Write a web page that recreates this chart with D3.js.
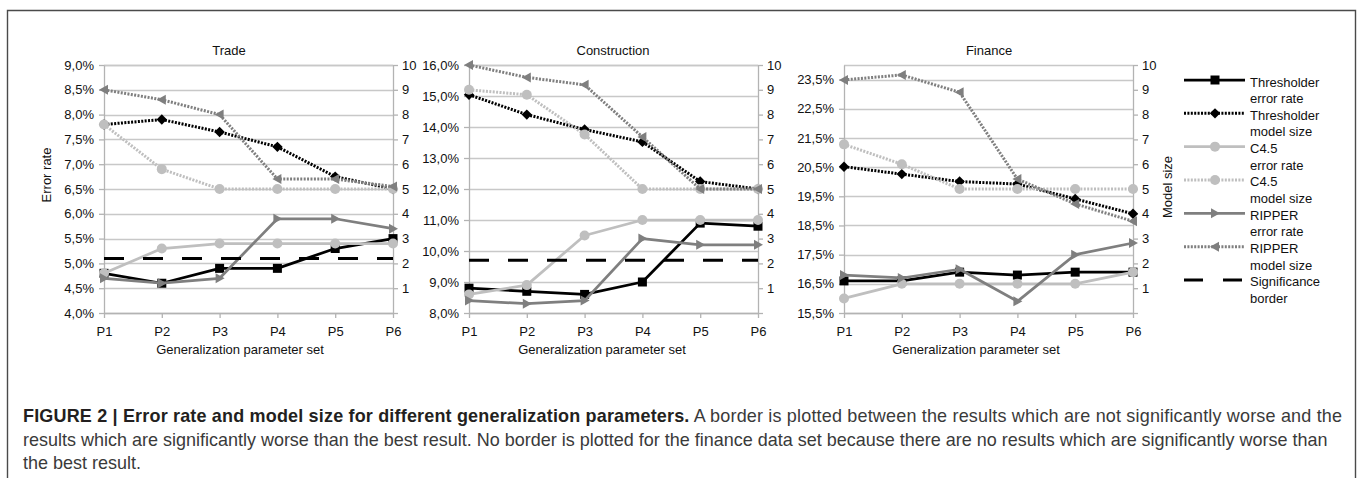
<!DOCTYPE html>
<html>
<head>
<meta charset="utf-8">
<script src="https://cdn.jsdelivr.net/npm/d3@7"></script>
<style>
  html, body { margin: 0; padding: 0; background: #fff; }
  svg { display: block; font-family: "Liberation Sans", Arial, Helvetica, sans-serif; }
</style>
</head>
<body>
<svg id="fig" width="1357" height="478"></svg>
<script>
// ---- Data -------------------------------------------------------------
const categories = ["P1", "P2", "P3", "P4", "P5", "P6"];
const panelTitles = ["Trade", "Construction", "Finance"];

// Trade (error rate in %, model size on secondary axis)
const tradeThresholderError = [4.8, 4.6, 4.9, 4.9, 5.3, 5.5];
const tradeThresholderSize  = [7.6, 7.8, 7.3, 6.7, 5.5, 5.0];
const tradeC45Error         = [4.8, 5.3, 5.4, 5.4, 5.4, 5.4];
const tradeC45Size          = [7.6, 5.8, 5.0, 5.0, 5.0, 5.0];
const tradeRipperError      = [4.7, 4.6, 4.7, 5.9, 5.9, 5.7];
const tradeRipperSize       = [9.0, 8.6, 8.0, 5.4, 5.4, 5.1];
const tradeSignificance     = [5.1, 5.1, 5.1, 5.1, 5.1, 5.1];

// Construction
const constructionThresholderError = [8.8, 8.7, 8.6, 9.0, 10.9, 10.8];
const constructionThresholderSize  = [8.8, 8.0, 7.4, 6.9, 5.3, 5.0];
const constructionC45Error         = [8.6, 8.9, 10.5, 11.0, 11.0, 11.0];
const constructionC45Size          = [9.0, 8.8, 7.2, 5.0, 5.0, 5.0];
const constructionRipperError      = [8.4, 8.3, 8.4, 10.4, 10.2, 10.2];
const constructionRipperSize       = [10.0, 9.5, 9.2, 7.1, 5.0, 5.0];
const constructionSignificance     = [9.7, 9.7, 9.7, 9.7, 9.7, 9.7];

// Finance (no significance border)
const financeThresholderError = [16.6, 16.6, 16.9, 16.8, 16.9, 16.9];
const financeThresholderSize  = [5.9, 5.6, 5.3, 5.2, 4.6, 4.0];
const financeC45Error         = [16.0, 16.5, 16.5, 16.5, 16.5, 16.9];
const financeC45Size          = [6.8, 6.0, 5.0, 5.0, 5.0, 5.0];
const financeRipperError      = [16.8, 16.7, 17.0, 15.9, 17.5, 17.9];
const financeRipperSize       = [9.4, 9.6, 8.9, 5.4, 4.4, 3.7];
const financeSignificance     = null;

// Axis ticks
const tradeErrorTicks        = [4.0, 4.5, 5.0, 5.5, 6.0, 6.5, 7.0, 7.5, 8.0, 8.5, 9.0];
const constructionErrorTicks = [8, 9, 10, 11, 12, 13, 14, 15, 16];
const financeErrorTicks      = [15.5, 16.5, 17.5, 18.5, 19.5, 20.5, 21.5, 22.5, 23.5];
const modelSizeTicks         = [0, 1, 2, 3, 4, 5, 6, 7, 8, 9, 10];

const legendLabels = [
  ["Thresholder", "error rate"],
  ["Thresholder", "model size"],
  ["C4.5", "error rate"],
  ["C4.5", "model size"],
  ["RIPPER", "error rate"],
  ["RIPPER", "model size"],
  ["Significance", "border"]
];

const xAxisTitle = "Generalization parameter set";
const leftAxisTitle = "Error rate";
const rightAxisTitle = "Model size";

const captionBold = "FIGURE 2 | Error rate and model size for different generalization parameters.";
const captionLines = [
  " A border is plotted between the results which are not significantly worse and the",
  "results which are significantly worse than the best result. No border is plotted for the finance data set because there are no results which are significantly worse than",
  "the best result."
];

// ---- Styles -----------------------------------------------------------
const BLACK = "#000000", LIGHT = "#bfbfbf", MID = "#7f7f7f";
const seriesStyles = [
  { color: BLACK, dotted: false, marker: "square",   axis: "left"  },  // Thresholder error
  { color: BLACK, dotted: true,  marker: "diamond",  axis: "right" },  // Thresholder size
  { color: LIGHT, dotted: false, marker: "circle",   axis: "left"  },  // C4.5 error
  { color: LIGHT, dotted: true,  marker: "circle",   axis: "right" },  // C4.5 size
  { color: MID,   dotted: false, marker: "triRight", axis: "left"  },  // RIPPER error
  { color: MID,   dotted: true,  marker: "triLeft",  axis: "right" },  // RIPPER size
  { color: BLACK, dashed: true,  marker: null,       axis: "left"  }   // Significance
];

const panels = [
  { title: panelTitles[0], domain: [4, 9], ticks: tradeErrorTicks,
    series: [tradeThresholderError, tradeThresholderSize, tradeC45Error, tradeC45Size, tradeRipperError, tradeRipperSize, tradeSignificance],
    x0: 104, x1: 393, titleX: 229, axisTitleX: 240, leftTitle: true, rightTitle: false },
  { title: panelTitles[1], domain: [8, 16], ticks: constructionErrorTicks,
    series: [constructionThresholderError, constructionThresholderSize, constructionC45Error, constructionC45Size, constructionRipperError, constructionRipperSize, constructionSignificance],
    x0: 469, x1: 758, titleX: 613, axisTitleX: 602, leftTitle: false, rightTitle: false },
  { title: panelTitles[2], domain: [15.5, 24], ticks: financeErrorTicks,
    series: [financeThresholderError, financeThresholderSize, financeC45Error, financeC45Size, financeRipperError, financeRipperSize, financeSignificance],
    x0: 844, x1: 1133, titleX: 989, axisTitleX: 976, leftTitle: false, rightTitle: true }
];

const plotTop = 65, plotBottom = 313;
const TEXT = "#111";
const FONT = 13;
const AXIS_COLOR = "#b3b3b3";
const GRID_COLOR = "#c8c8c8";

const commaLocale = d3.formatLocale({ decimal: ",", thousands: ".", grouping: [3], currency: ["", ""] });
const pctFmt = v => commaLocale.format(".1f")(v) + "%";

const svg = d3.select("#fig");

// outer frame (open at the bottom)
svg.append("path")
  .attr("d", "M7.5,478 L7.5,10.5 L1355.5,10.5 L1355.5,478")
  .attr("fill", "none").attr("stroke", "#4a4a4a").attr("stroke-width", 1.4);

// ---- Marker shapes ----------------------------------------------------
function markerPath(type) {
  switch (type) {
    case "square":   return "M-4.5,-4.5H4.5V4.5H-4.5Z";
    case "diamond":  return "M0,-5.2L5.2,0L0,5.2L-5.2,0Z";
    case "circle":   return d3.symbol(d3.symbolCircle, Math.PI * 25)();
    case "triRight": return "M-4,-5L5,0L-4,5Z";
    case "triLeft":  return "M4,-5L-5,0L4,5Z";
  }
  return "";
}

function drawSeries(g, values, x, yScale, st) {
  const line = d3.line().x((d, i) => x(categories[i])).y(d => yScale(d));
  const p = g.append("path").attr("d", line(values))
    .attr("fill", "none").attr("stroke", st.color)
    .attr("stroke-linejoin", "round");
  if (st.dashed) {
    p.attr("stroke-width", 3).attr("stroke-dasharray", "20,19");
  } else if (st.dotted) {
    p.attr("stroke-width", 3).attr("stroke-dasharray", "2,1.4");
  } else {
    p.attr("stroke-width", 2.75);
  }
  if (st.marker) {
    g.selectAll(null).data(values).enter().append("path")
      .attr("d", markerPath(st.marker))
      .attr("transform", (d, i) => `translate(${x(categories[i])},${yScale(d)})`)
      .attr("fill", st.color).attr("stroke", "none");
  }
}

function styleAxis(sel) {
  sel.select(".domain").attr("stroke", AXIS_COLOR).attr("stroke-width", 1.3);
  sel.selectAll(".tick line").attr("stroke", AXIS_COLOR).attr("stroke-width", 1.3);
  sel.selectAll(".tick text").attr("fill", TEXT).attr("font-size", FONT)
    .attr("font-family", '"Liberation Sans", Arial, Helvetica, sans-serif');
}

panels.forEach(pn => {
  const g = svg.append("g");
  const x = d3.scalePoint().domain(categories).range([pn.x0, pn.x1]).padding(0);
  const yL = d3.scaleLinear().domain(pn.domain).range([plotBottom, plotTop]);
  const yR = d3.scaleLinear().domain([0, 10]).range([plotBottom, plotTop]);

  // gridlines from the error-rate axis, plus top edge of plot
  g.append("g").selectAll("line").data(pn.ticks).enter().append("line")
    .attr("x1", pn.x0).attr("x2", pn.x1)
    .attr("y1", d => Math.round(yL(d)) + 0.5).attr("y2", d => Math.round(yL(d)) + 0.5)
    .attr("stroke", GRID_COLOR).attr("stroke-width", 1.3);
  g.append("line").attr("x1", pn.x0).attr("x2", pn.x1)
    .attr("y1", plotTop + 0.5).attr("y2", plotTop + 0.5)
    .attr("stroke", GRID_COLOR).attr("stroke-width", 1.3);

  // axes
  const left = g.append("g").attr("transform", `translate(${pn.x0},0)`)
    .call(d3.axisLeft(yL).tickValues(pn.ticks).tickFormat(pctFmt).tickSize(5).tickSizeOuter(0).tickPadding(5));
  styleAxis(left);
  const right = g.append("g").attr("transform", `translate(${pn.x1},0)`)
    .call(d3.axisRight(yR).tickValues(modelSizeTicks).tickFormat(d => d === 0 ? "" : d).tickSize(5).tickSizeOuter(0).tickPadding(4));
  styleAxis(right);
  const bottom = g.append("g").attr("transform", `translate(0,${plotBottom})`)
    .call(d3.axisBottom(x).tickSize(5).tickSizeOuter(0).tickPadding(9));
  styleAxis(bottom);

  // titles
  g.append("text").attr("x", pn.titleX).attr("y", 55).attr("text-anchor", "middle")
    .attr("font-size", FONT).attr("fill", TEXT).text(pn.title);
  g.append("text").attr("x", pn.axisTitleX).attr("y", 354).attr("text-anchor", "middle")
    .attr("font-size", FONT).attr("fill", TEXT).text(xAxisTitle);
  if (pn.leftTitle) {
    g.append("text").attr("transform", "translate(51,175) rotate(-90)")
      .attr("text-anchor", "middle").attr("font-size", FONT).attr("fill", TEXT).text(leftAxisTitle);
  }
  if (pn.rightTitle) {
    g.append("text").attr("transform", "translate(1172,187) rotate(-90)")
      .attr("text-anchor", "middle").attr("font-size", FONT).attr("fill", TEXT).text(rightAxisTitle);
  }

  // series: error rates (primary axis) first, then model sizes (secondary axis)
  const order = [0, 2, 4, 6, 1, 3, 5];
  order.forEach(k => {
    const vals = pn.series[k];
    if (!vals) return;
    const st = seriesStyles[k];
    drawSeries(g, vals, x, st.axis === "left" ? yL : yR, st);
  });
});

// ---- Legend -----------------------------------------------------------
const legend = svg.append("g");
legendLabels.forEach((lab, i) => {
  const st = seriesStyles[i];
  const y = 80 + i * 33.33;
  const row = legend.append("g");
  const ln = row.append("line").attr("x1", 1184).attr("x2", 1245).attr("y1", y).attr("y2", y)
    .attr("stroke", st.color);
  if (st.dashed) ln.attr("stroke-width", 3).attr("stroke-dasharray", "19,20");
  else if (st.dotted) ln.attr("stroke-width", 3).attr("stroke-dasharray", "2,1.4");
  else ln.attr("stroke-width", 2.75);
  if (st.marker) {
    row.append("path").attr("d", markerPath(st.marker))
      .attr("transform", `translate(1215,${y})`).attr("fill", st.color);
  }
  row.append("text").attr("x", 1250).attr("y", y + 6.5).attr("font-size", FONT).attr("fill", TEXT).text(lab[0]);
  row.append("text").attr("x", 1250).attr("y", y + 23).attr("font-size", FONT).attr("fill", TEXT).text(lab[1]);
});

// ---- Caption ----------------------------------------------------------
const cap = svg.append("g");
const capX = 23;
// size the regular text by the second (longest regular) line
const second = cap.append("text").attr("x", capX).attr("y", 445.5).attr("font-size", 15)
  .attr("fill", "#3a3a3a").text(captionLines[1]);
const capSize = 15 * 1305 / second.node().getComputedTextLength();
second.attr("font-size", capSize);

const first = cap.append("text").attr("x", capX).attr("y", 422).attr("font-size", capSize);
first.append("tspan").attr("font-weight", "bold").attr("fill", "#231f20").text(captionBold);
first.append("tspan").attr("fill", "#3a3a3a").text(captionLines[0]);
const firstLen = first.node().getComputedTextLength();
if (firstLen > 1319) first.attr("textLength", 1319).attr("lengthAdjust", "spacingAndGlyphs");
else first.attr("textLength", 1319).attr("lengthAdjust", "spacing");

cap.append("text").attr("x", capX).attr("y", 468.5).attr("font-size", capSize).attr("fill", "#3a3a3a").text(captionLines[2]);
</script>
</body>
</html>
